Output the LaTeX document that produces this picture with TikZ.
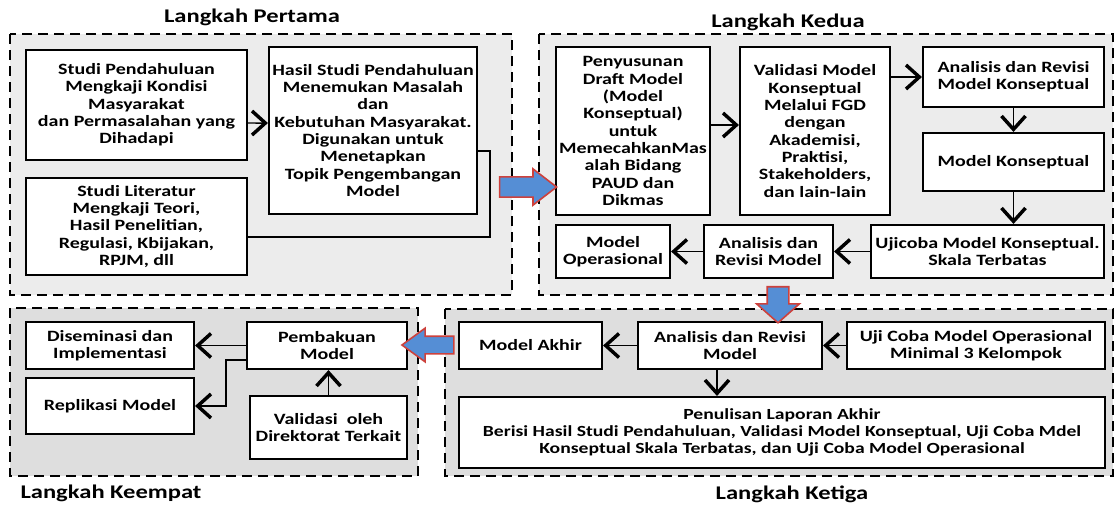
\documentclass[tikz,border=0pt]{standalone}
\usepackage{fontspec}
\setmainfont{Carlito}[FakeStretch=1.27]
\usetikzlibrary{graphs,arrows.meta,shapes.arrows}

\definecolor{frametop}{RGB}{236,236,236}
\definecolor{framebot}{RGB}{222,222,222}
\definecolor{arrowblue}{RGB}{85,142,213}
\definecolor{arrowred}{RGB}{205,65,60}

\begin{document}
\begin{tikzpicture}[x=0.75pt,y=-0.75pt,
	font=\fontsize{11.8}{13}\selectfont\bfseries,
	>={Straight Barb[length=10pt,width=18pt,line width=2.6pt]},
	stepbox/.style={draw,rectangle,black,line width=1.6pt,fill=white,align=center,inner sep=1pt},
	stepframe/.style={draw=black,dash pattern=on 7.5pt off 4.5pt,line width=1.9pt},
	steparr/.style={line width=1.1pt},
	steplink/.style={draw,line width=0.9pt},
	stepgo/.style={single arrow,draw=arrowred,fill=arrowblue,line width=1.2pt,inner xsep=0pt},
	steptitle/.style={font=\fontsize{14.5}{16}\selectfont\bfseries}]

	\useasboundingbox (0,0) rectangle (1118,504);

	\draw [stepframe,fill=frametop] (10,34) rectangle (512,295);
	\draw [stepframe,fill=frametop] (539,34) rectangle (1113,295);
	\draw [stepframe,fill=framebot] (10,308) rectangle (418,476);
	\draw [stepframe,fill=framebot] (445,309) rectangle (1113,476);

	\node [name=t1,steptitle] at (252,17) {Langkah Pertama};
	\node [name=t2,steptitle] at (788,22) {Langkah Kedua};
	\node [name=t3,steptitle] at (792,494) {Langkah Ketiga};
	\node [name=t4,steptitle] at (111,493) {Langkah Keempat};


	\node [name=studi,stepbox,minimum width=165.75pt,minimum height=82.5pt] at (136.5,105) {Studi Pendahuluan\\Mengkaji Kondisi\\Masyarakat\\dan Permasalahan yang\\Dihadapi};
	\node [name=litera,stepbox,minimum width=165.75pt,minimum height=72.75pt] at (136.5,226.5) {Studi Literatur\\Mengkaji Teori,\\Hasil Penelitian,\\Regulasi, Kbijakan,\\RPJM, dll};
	\node [name=hasil,stepbox,minimum width=156pt,minimum height=125.25pt] at (373,130.5) {Hasil Studi Pendahuluan\\Menemukan Masalah\\dan\\Kebutuhan Masyarakat.\\Digunakan untuk\\Menetapkan\\Topik Pengembangan\\Model};


	\node [name=draft,stepbox,minimum width=115.5pt,minimum height=126pt] at (633,131) {Penyusunan\\Draft Model\\(Model\\Konseptual)\\untuk\\MemecahkanMas\\alah Bidang\\PAUD dan\\Dikmas};
	\node [name=valid,stepbox,minimum width=112.5pt,minimum height=126pt] at (815,131) {Validasi Model\\Konseptual\\Melalui FGD\\dengan\\Akademisi,\\Praktisi,\\Stakeholders,\\dan lain-lain};
	\node [name=revkon,stepbox,minimum width=135.75pt,minimum height=45pt] at (1013.5,77) {Analisis dan Revisi\\Model Konseptual};
	\node [name=konsep,stepbox,minimum width=135.75pt,minimum height=43.5pt] at (1013.5,162) {Model Konseptual};
	\node [name=ujikon,stepbox,minimum width=174.75pt,minimum height=39.75pt] at (987.5,251.5) {Ujicoba Model Konseptual.\\Skala Terbatas};
	\node [name=revmod,stepbox,minimum width=96.75pt,minimum height=39.75pt] at (768.5,251.5) {Analisis dan\\Revisi Model};
	\node [name=opera,stepbox,minimum width=85.5pt,minimum height=39.75pt] at (613,251.5) {Model\\Operasional};


	\node [name=ujiop,stepbox,minimum width=193.5pt,minimum height=35.25pt] at (976,345.5) {Uji Coba Model Operasional\\Minimal 3 Kelompok};
	\node [name=revakh,stepbox,minimum width=138pt,minimum height=35.25pt] at (730,345.5) {Analisis dan Revisi\\Model};
	\node [name=akhir,stepbox,minimum width=107.25pt,minimum height=35.25pt] at (530.5,345.5) {Model Akhir};
	\node [name=lapor,stepbox,minimum width=484.5pt,minimum height=53.25pt,font=\fontsize{11.6}{13}\selectfont\bfseries] at (782,432.5) {Penulisan Laporan Akhir\\Berisi Hasil Studi Pendahuluan, Validasi Model Konseptual, Uji Coba Mdel\\Konseptual Skala Terbatas, dan Uji Coba Model Operasional};


	\node [name=baku,stepbox,minimum width=120pt,minimum height=35.25pt] at (327,345.5) {Pembakuan\\Model};
	\node [name=dirkt,stepbox,minimum width=117.75pt,minimum height=47.25pt] at (328.5,427.5) {Validasi~ oleh\\Direktorat Terkait};
	\node [name=disem,stepbox,minimum width=126pt,minimum height=35.25pt] at (110,345.5) {Diseminasi dan\\Implementasi};
	\node [name=repli,stepbox,minimum width=126pt,minimum height=42pt] at (110,406) {Replikasi Model};


	\node [name=go1,stepgo,minimum height=42.75pt,inner ysep=7pt,single arrow head extend=6pt,single arrow tip angle=75] at (521.5,187) {};
	\node [name=go2,stepgo,rotate=-90,minimum height=27pt,inner ysep=7.5pt,single arrow head extend=7.9pt,single arrow tip angle=97] at (778,300) {};
	\node [name=go3,stepgo,rotate=180,minimum height=39pt,inner ysep=6pt,single arrow head extend=6pt,single arrow tip angle=72] at (434,345) {};


\draw [->,steparr] ([yshift=-13.5pt]studi.east) -- ([yshift=5.6pt]hasil.west);
\draw [steplink] ([yshift=-7.9pt]litera.east) -| ([xshift=9pt,yshift=-15.4pt]hasil.east) -- ([yshift=-15.4pt]hasil.east);

\draw [->,steparr] ([yshift=4.5pt]draft.east) -- ([yshift=4.5pt]valid.west);
\draw [->,steparr] (valid.east |- revkon.west) -- (revkon.west);
\graph {(revkon) ->[steparr] (konsep)};
\draw [->,steparr] (konsep.south) -- (konsep.south |- ujikon.north);
\graph {(ujikon) ->[steparr] (revmod) ->[steparr] (opera)};

\graph {(ujiop) ->[steparr] (revakh) ->[steparr] (akhir)};
\coordinate (down) at ([xshift=-9.75pt]revakh.south);
\draw [->,steparr] (down) -- (down |- lapor.north);

\graph {(baku) ->[steparr] (disem)};
\draw [->,steparr] ([yshift=-10.9pt]baku.west) -- ++(-20,0) |- (repli.east);
\draw [->,steparr] (dirkt.north) -- (dirkt.north |- baku.south);

\end{tikzpicture}
\end{document}
